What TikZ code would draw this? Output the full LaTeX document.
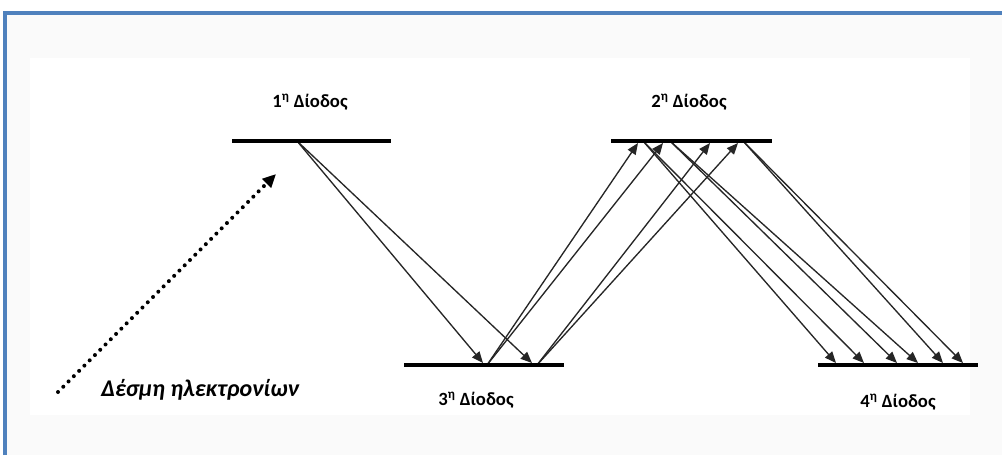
\documentclass[tikz,border=0pt]{standalone}
\usepackage{fontspec}
\setmainfont{Carlito}
\usetikzlibrary{arrows.meta}
\definecolor{frameblue}{RGB}{79,129,189}
\begin{document}
\begin{tikzpicture}[x=0.75pt,y=-0.75pt,
  plate/.style={line width=3.3pt},
  ray/.style={line width=1pt, draw=black!85, -{Triangle[length=8.5pt,width=7pt]}},
  beam/.style={line width=3pt, line cap=round, dash pattern=on 0pt off 5.6pt,
    -{Triangle[length=10pt,width=9pt]}},
  diode/.style={font=\bfseries\fontsize{14}{16}\selectfont, inner sep=0pt},
  beamlabel/.style={font=\bfseries\itshape\fontsize{18}{20}\selectfont, inner sep=0pt}
]
\useasboundingbox (0,0) rectangle (1002,455);

% panel background and frame
\fill[black!2] (5,13) rectangle (1002,455);
\fill[white] (30,58) rectangle (970,415);
\draw[frameblue, line width=2.3pt] (5,455) -- (5,13) -- (1002,13);

% reflection points on the four diodes
\coordinate (s1) at (297,141);
\coordinate (t3a) at (483,363);
\coordinate (t3b) at (532,363);
\coordinate (s3a) at (487,365);
\coordinate (s3b) at (537,365);
\coordinate (t2a) at (638,143);
\coordinate (t2b) at (663,143);
\coordinate (t2c) at (710,143);
\coordinate (t2d) at (738,143);
\coordinate (s2a) at (643,141);
\coordinate (s2b) at (670,141);
\coordinate (s2c) at (743,141);
\coordinate (t4a) at (836,363);
\coordinate (t4b) at (864,363);
\coordinate (t4c) at (897,363);
\coordinate (t4d) at (918,363);
\coordinate (t4e) at (943,363);
\coordinate (t4f) at (963,363);

% electron paths
\draw[ray] (s1) -- (t3a);
\draw[ray] (s1) -- (t3b);
\draw[ray] (s3a) -- (t2a);
\draw[ray] (s3a) -- (t2b);
\draw[ray] (s3b) -- (t2c);
\draw[ray] (s3b) -- (t2d);
\draw[ray] (s2a) -- (t4a);
\draw[ray] (s2a) -- (t4b);
\draw[ray] (s2b) -- (t4c);
\draw[ray] (s2b) -- (t4d);
\draw[ray] (s2c) -- (t4e);
\draw[ray] (s2c) -- (t4f);

% diodes
\draw[plate] (232,141) coordinate (d1w) -- (391,141) coordinate (d1e);
\draw[plate] (611,141) coordinate (d2w) -- (772,141) coordinate (d2e);
\draw[plate] (404,365) coordinate (d3w) -- (564,365) coordinate (d3e);
\draw[plate] (818,365) coordinate (d4w) -- (978,365) coordinate (d4e);

% incoming electron beam
\coordinate (b0) at (58,392);
\coordinate (b1) at (276,174);
\draw[beam] (b0) -- (b1);

% labels
\node[diode] (l1) at (310,102) {1\textsuperscript{η} Δίοδος};
\node[diode] (l2) at (689,102) {2\textsuperscript{η} Δίοδος};
\node[diode] (l3) at (476,400) {3\textsuperscript{η} Δίοδος};
\node[diode] (l4) at (898,402) {4\textsuperscript{η} Δίοδος};
\node[beamlabel] (lb) at (200,390) {Δέσμη ηλεκτρονίων};
\end{tikzpicture}
\end{document}
